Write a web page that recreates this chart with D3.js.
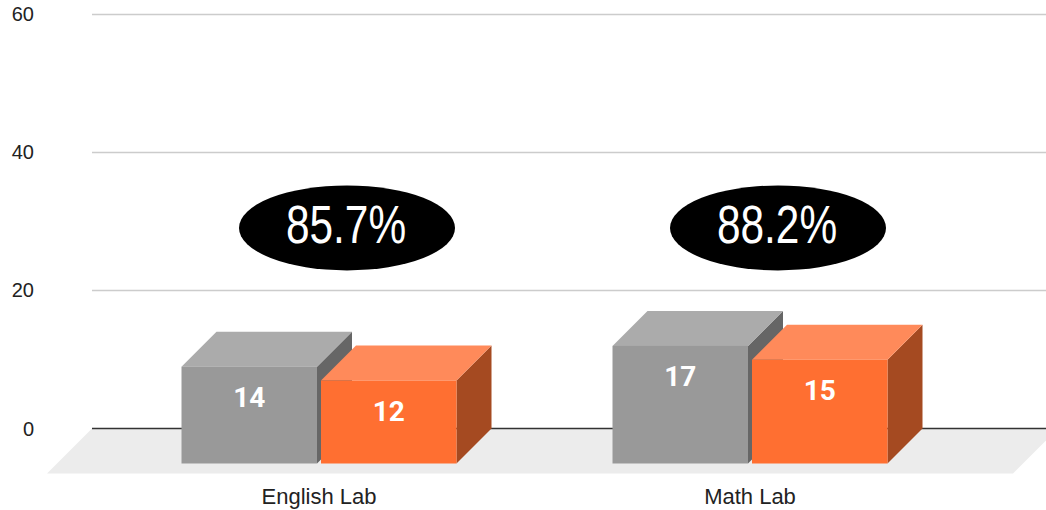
<!DOCTYPE html>
<html>
<head>
<meta charset="utf-8">
<script src="https://cdn.jsdelivr.net/npm/d3@7"></script>
<style>
  html, body { margin: 0; padding: 0; background: #fff; }
  svg { display: block; }
</style>
</head>
<body>
<svg id="chart" width="1046" height="510"></svg>
<script>
// ---- data ----
const categories = ["English Lab", "Math Lab"];
const seriesNames = ["Enrolled", "Completed"];
const enrolled = [14, 17];
const completed = [12, 15];
const rateLabels = ["85.7%", "88.2%"];
const rateLevel = [29, 29];
const yTicks = [0, 20, 40, 60];

// ---- layout ----
const W = 1046, H = 510;
const depth = 35;          // bar depth offset
const floorDepth = 45;     // floor depth offset
const barW = 135.5, barGap = 4;
const colors = [
  { front: "#999999", top: "#ababab", side: "#666666" },
  { front: "#ff6f31", top: "#ff8a5a", side: "#a54a21" }
];

const svg = d3.select("#chart");
const y = d3.scaleLinear().domain([0, 60]).range([428.5, 13.5]);
const x = d3.scalePoint().domain(categories).range([103.5, 965.5]).padding(0.5);

// floor
const fy0 = y(0);
svg.append("path")
  .attr("d", `M92,${fy0} L${1013 + floorDepth},${fy0} L1013,${fy0 + floorDepth} L${92 - floorDepth},${fy0 + floorDepth} Z`)
  .attr("fill", "#ececec");

// gridlines
svg.append("g").selectAll("line").data(yTicks.filter(d => d !== 0)).join("line")
  .attr("x1", 92).attr("x2", W)
  .attr("y1", d => Math.round(y(d)) + 0.5).attr("y2", d => Math.round(y(d)) + 0.5)
  .attr("stroke", "#cccccc").attr("stroke-width", 1.3);
svg.append("line")
  .attr("x1", 92).attr("x2", W).attr("y1", fy0).attr("y2", fy0)
  .attr("stroke", "#333333").attr("stroke-width", 1.5);

// y labels
svg.append("g").selectAll("text").data(yTicks).join("text")
  .attr("x", 34).attr("y", d => y(d))
  .attr("dy", "0.36em")
  .attr("text-anchor", "end")
  .attr("font-family", "Liberation Sans, Arial, sans-serif")
  .attr("font-size", 20).attr("fill", "#222")
  .text(d => d);

// bars
const series = [enrolled, completed];
categories.forEach((cat, i) => {
  const left = x(cat) - (barW * 2 + barGap) / 2;
  series.forEach((vals, s) => {
    const v = vals[i];
    const x0 = left + s * (barW + barGap);
    const x1 = x0 + barW;
    const yb = y(0) + depth;          // front bottom
    const yt = y(v) + depth;          // front top
    const c = colors[s];
    const g = svg.append("g");
    // side
    g.append("path")
      .attr("d", `M${x1},${yb} L${x1},${yt} L${x1 + depth},${yt - depth} L${x1 + depth},${yb - depth} Z`)
      .attr("fill", c.side);
    // top
    g.append("path")
      .attr("d", `M${x0},${yt} L${x0 + depth},${yt - depth} L${x1 + depth},${yt - depth} L${x1},${yt} Z`)
      .attr("fill", c.top);
    // front
    g.append("rect")
      .attr("x", x0).attr("y", yt).attr("width", barW).attr("height", yb - yt)
      .attr("fill", c.front);
    // value label
    g.append("text")
      .attr("x", (x0 + x1) / 2).attr("y", yt + 40.5)
      .attr("text-anchor", "middle")
      .attr("font-family", "Roboto, sans-serif")
      .attr("font-weight", "bold")
      .attr("font-size", 28).attr("fill", "#ffffff")
      .text(v);
  });
});

// rate ellipses
categories.forEach((cat, i) => {
  const cx = x(cat) + 28;
  const cy = y(rateLevel[i]);
  svg.append("ellipse")
    .attr("cx", cx).attr("cy", cy).attr("rx", 108).attr("ry", 42.5)
    .attr("fill", "#000");
  svg.append("text")
    .attr("transform", `translate(${cx - 1},${cy + 15}) scale(0.8,1)`)
    .attr("text-anchor", "middle")
    .attr("font-family", "Liberation Sans, Arial, sans-serif")
    .attr("font-size", 53).attr("fill", "#fff")
    .text(rateLabels[i]);
});

// x labels
svg.append("g").selectAll("text").data(categories).join("text")
  .attr("x", d => x(d)).attr("y", 504.3)
  .attr("text-anchor", "middle")
  .attr("font-family", "Liberation Sans, Arial, sans-serif")
  .attr("font-size", 22).attr("fill", "#222")
  .text(d => d);
</script>
</body>
</html>
